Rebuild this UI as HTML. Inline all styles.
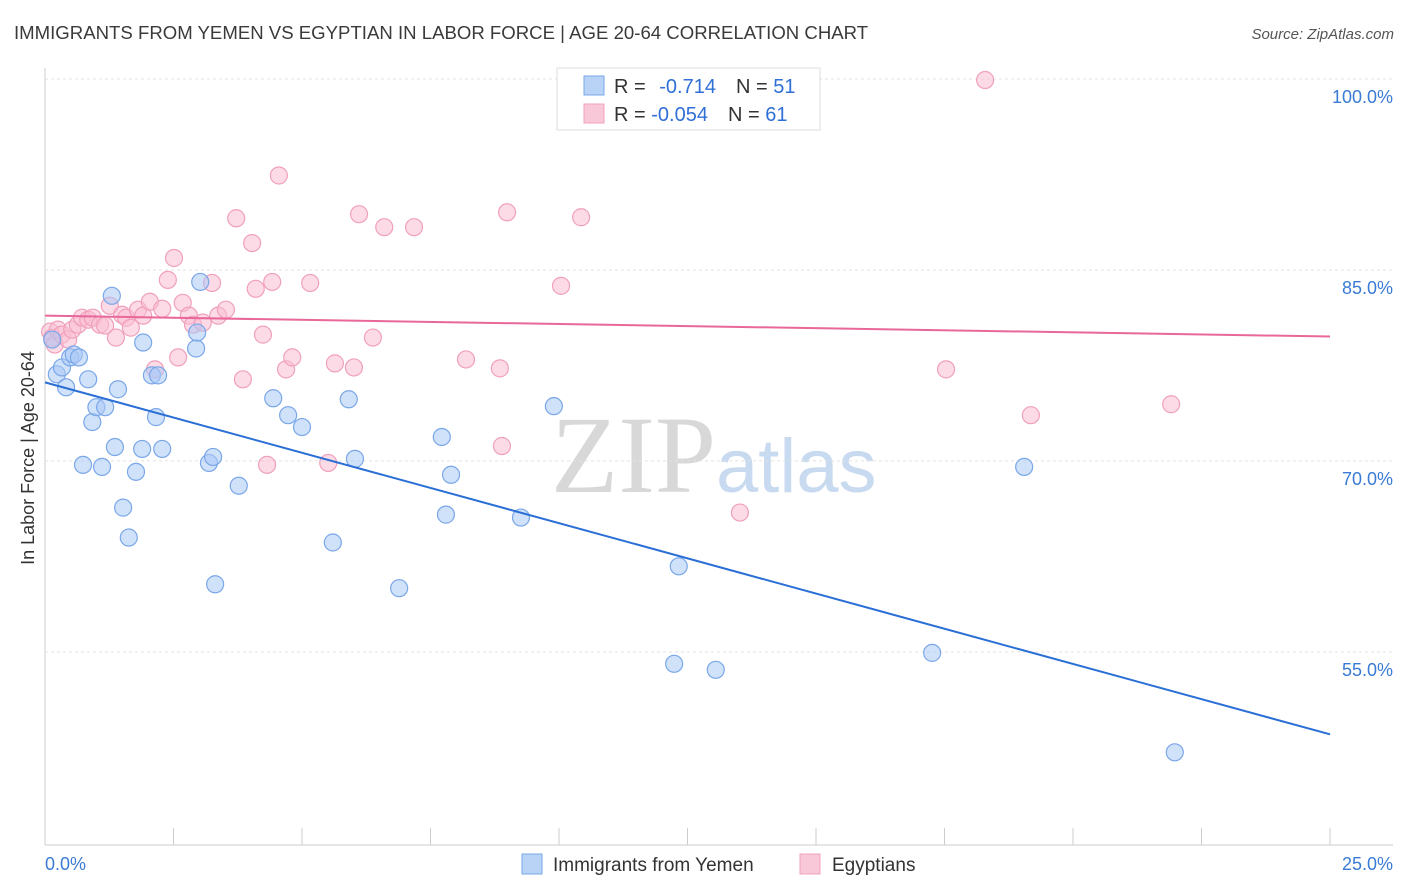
<!DOCTYPE html>
<html><head><meta charset="utf-8"><style>
body{margin:0;background:#fff;font-family:"Liberation Sans",sans-serif;}
svg{display:block}
</style></head><body>
<svg id="chart" width="1406" height="892">
<text x="14" y="39" font-size="18.6" fill="#3a3a3a">IMMIGRANTS FROM YEMEN VS EGYPTIAN IN LABOR FORCE | AGE 20-64 CORRELATION CHART</text>
<text x="1394" y="39" font-size="15" fill="#555" font-style="italic" text-anchor="end">Source: ZipAtlas.com</text>
<text x="34" y="458" font-size="18" fill="#333" text-anchor="middle" transform="rotate(-90 34 458)">In Labor Force | Age 20-64</text>
<text x="716" y="492" font-size="110" fill="#d8d8d8" font-family="Liberation Serif,serif" text-anchor="end">ZIP</text>
<text x="716" y="492" font-size="76" fill="#c8daf0" text-anchor="start">atlas</text>
<g id="grid"></g><g id="pts"></g><g id="lines"></g>
<g>
<rect x="557" y="68" width="263" height="62" fill="#fff" stroke="#ddd"/>
<rect x="584" y="76" width="20" height="19" fill="#b8d3f5" stroke="#7aa7e8"/>
<rect x="584" y="104" width="20" height="19" fill="#f9c8d8" stroke="#f0a0bc"/>
<text x="614" y="93" font-size="20" fill="#333">R = <tspan fill="#2f6fd6" dx="8">-0.714</tspan><tspan dx="20" fill="#333">N = </tspan><tspan fill="#2f6fd6">51</tspan></text>
<text x="614" y="121" font-size="20" fill="#333">R = <tspan fill="#2f6fd6">-0.054</tspan><tspan dx="20" fill="#333">N = </tspan><tspan fill="#2f6fd6">61</tspan></text>
</g>
<g>
<rect x="522" y="854" width="20" height="20" fill="#b8d3f5" stroke="#7aa7e8"/>
<text x="553" y="871" font-size="19" fill="#333">Immigrants from Yemen</text>
<rect x="800" y="854" width="20" height="20" fill="#f9c8d8" stroke="#f0a0bc"/>
<text x="832" y="871" font-size="19" fill="#333">Egyptians</text>
</g>
</svg>
<script>
const yTicks=[100,85,70,55];
const xTickLabels=["0.0%","25.0%"];
const blueX=[0.14,0.23,0.33,0.41,0.49,0.56,0.66,0.74,0.84,0.92,1.00,1.11,1.17,1.30,1.36,1.42,1.52,1.63,1.77,1.89,1.91,2.08,2.16,2.20,2.28,2.94,2.96,3.02,3.19,3.27,3.31,3.77,4.44,4.73,5.00,5.60,5.91,6.03,6.89,7.72,7.80,7.90,9.26,9.90,12.24,12.33,13.05,17.26,19.05,21.98];
const blueY=[79.53,76.80,77.34,75.78,78.13,78.36,78.13,69.69,76.41,73.05,74.22,69.53,74.22,82.97,71.09,75.63,66.33,63.98,69.14,70.94,79.30,76.72,73.44,76.72,70.94,78.83,80.08,84.06,69.84,70.31,60.31,68.05,74.92,73.59,72.66,63.59,74.84,70.16,60.00,71.88,65.78,68.91,65.55,74.30,54.06,61.72,53.59,54.92,69.53,47.11];
const pinkX=[0.10,0.14,0.19,0.25,0.33,0.45,0.53,0.64,0.72,0.84,0.93,1.07,1.17,1.26,1.38,1.50,1.58,1.67,1.81,1.91,2.04,2.14,2.28,2.39,2.51,2.59,2.68,2.80,2.88,3.07,3.25,3.37,3.52,3.72,3.85,4.03,4.10,4.24,4.32,4.42,4.55,4.69,4.81,5.16,5.51,5.64,6.01,6.11,6.38,6.60,7.18,8.19,8.85,8.89,8.99,10.04,10.43,13.52,17.53,18.29,19.18,21.91];
const pinkY=[80.16,79.69,79.14,80.31,79.92,79.53,80.31,80.70,81.25,81.09,81.25,80.70,80.63,82.19,79.69,81.48,81.25,80.47,81.88,81.41,82.50,77.19,81.95,84.22,85.94,78.13,82.42,81.41,80.70,80.86,83.98,81.41,81.88,89.06,76.41,87.11,83.52,79.92,69.69,84.06,92.42,77.19,78.13,83.98,69.84,77.66,77.34,89.38,79.69,88.36,88.36,77.97,77.27,71.17,89.53,83.75,89.14,65.94,77.19,99.92,73.59,74.45];
const blueTrend=[76.17,48.52];
const pinkTrend=[81.41,79.77];
const NS="http://www.w3.org/2000/svg";
const sx=v=>45+v/25*1285;
const sy=v=>79+(100-v)*12.73;
function mk(t,a,p){const e=document.createElementNS(NS,t);for(const k in a)e.setAttribute(k,a[k]);p.appendChild(e);return e;}
const grid=document.getElementById('grid');
mk('line',{x1:45,y1:68,x2:45,y2:845,stroke:'#ccc'},grid);
mk('line',{x1:45,y1:845,x2:1393,y2:845,stroke:'#ccc'},grid);
for(let i=0;i<=10;i++){const x=45+i*128.5;mk('line',{x1:x,y1:828,x2:x,y2:845,stroke:'#ccc'},grid);}
yTicks.forEach(t=>{
const l=mk('line',{x1:45,y1:sy(t),x2:1393,y2:sy(t),stroke:'#e2e2e2','stroke-dasharray':'3,3'},grid);


const tx=mk('text',{x:1393,y:sy(t)+24,'font-size':18,fill:'#3a7bd5','text-anchor':'end'},grid);
tx.textContent=t.toFixed(1)+'%';


});
xTickLabels.forEach((s,i)=>{
const tx=mk('text',{x:i?1393:45,y:870,'font-size':18,fill:'#3a7bd5','text-anchor':i?'end':'start'},grid);
tx.textContent=s;


});
const pts=document.getElementById('pts');
pinkX.forEach((x,i)=>{
const c=mk('circle',{cx:sx(x),cy:sy(pinkY[i]),r:8.5,fill:'rgba(249,190,210,0.55)',stroke:'#f0a0bc','stroke-width':1.2},pts);


});
blueX.forEach((x,i)=>{
const c=mk('circle',{cx:sx(x),cy:sy(blueY[i]),r:8.5,fill:'rgba(170,200,245,0.55)',stroke:'#7aa7e8','stroke-width':1.2},pts);


});
const lines=document.getElementById('lines');
const bl=mk('line',{x1:sx(0),y1:sy(blueTrend[0]),x2:sx(25),y2:sy(blueTrend[1]),stroke:'#2a6fd6','stroke-width':2},lines);


const pl=mk('line',{x1:sx(0),y1:sy(pinkTrend[0]),x2:sx(25),y2:sy(pinkTrend[1]),stroke:'#e8689a','stroke-width':2},lines);


</script>
</body></html>
